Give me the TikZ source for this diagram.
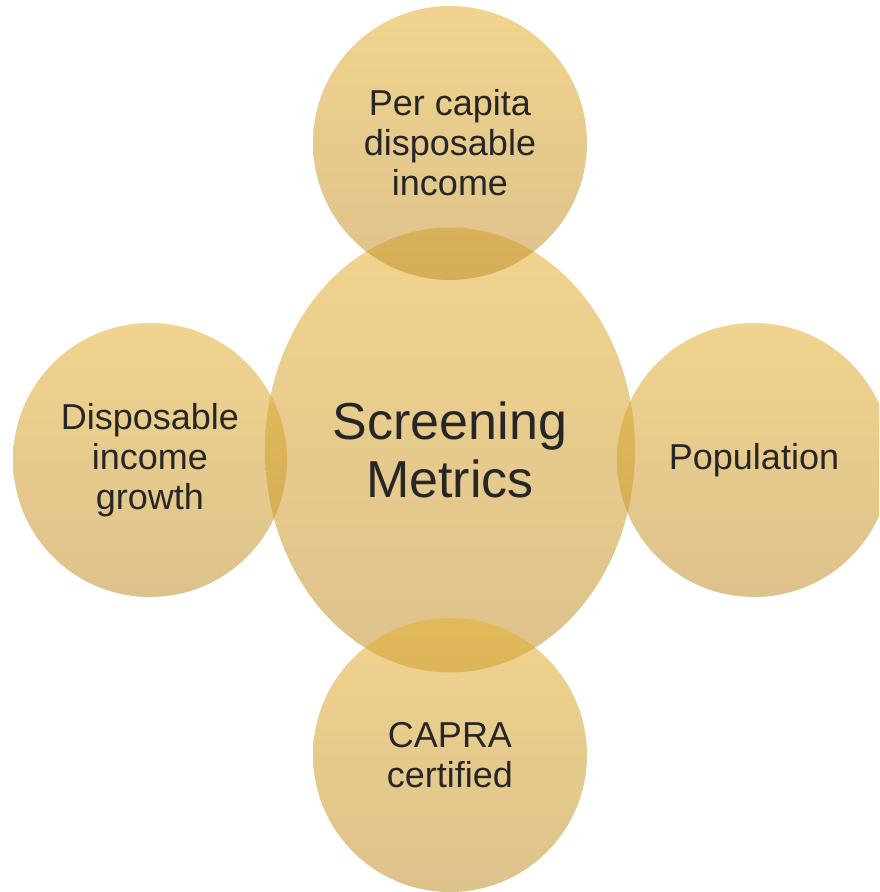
\documentclass[tikz,border=0pt]{standalone}
\usepackage{fontspec}
\setmainfont{Liberation Sans}
\usetikzlibrary{shapes.geometric}
\definecolor{goldtop}{RGB}{230,177,50}
\definecolor{goldbottom}{RGB}{193,144,46}
\definecolor{inktext}{RGB}{38,38,38}
\tikzset{
  bubble/.style={circle, minimum size=274pt, inner sep=0pt,
    top color=goldtop, bottom color=goldbottom, draw=none,
    fill opacity=0.55, text opacity=1, text=inktext, align=center,
    font=\fontsize{36}{40}\selectfont},
  hub/.style={ellipse, minimum width=370pt, minimum height=445pt, inner sep=0pt,
    top color=goldtop, bottom color=goldbottom, draw=none,
    fill opacity=0.55, text opacity=1, text=inktext, align=center,
    font=\fontsize{52}{58}\selectfont}
}
\begin{document}
\begin{tikzpicture}[x=1pt,y=-1pt]
  \useasboundingbox (0,0) rectangle (879,892);
  \clip (0,0) rectangle (879,892);
  \fill[white] (0,0) rectangle (879,892);
  \node[hub] (hub) at (450,450) {Screening\\Metrics};
  \node[bubble] (top) at (450,143) {Per capita\\disposable\\income};
  \node[bubble] (left) at (150,460) {Disposable\\income\\growth};
  \node[bubble] (right) at (754,460) {Population};
  \node[bubble] (bottom) at (450,755) {CAPRA\\certified};
\end{tikzpicture}
\end{document}
